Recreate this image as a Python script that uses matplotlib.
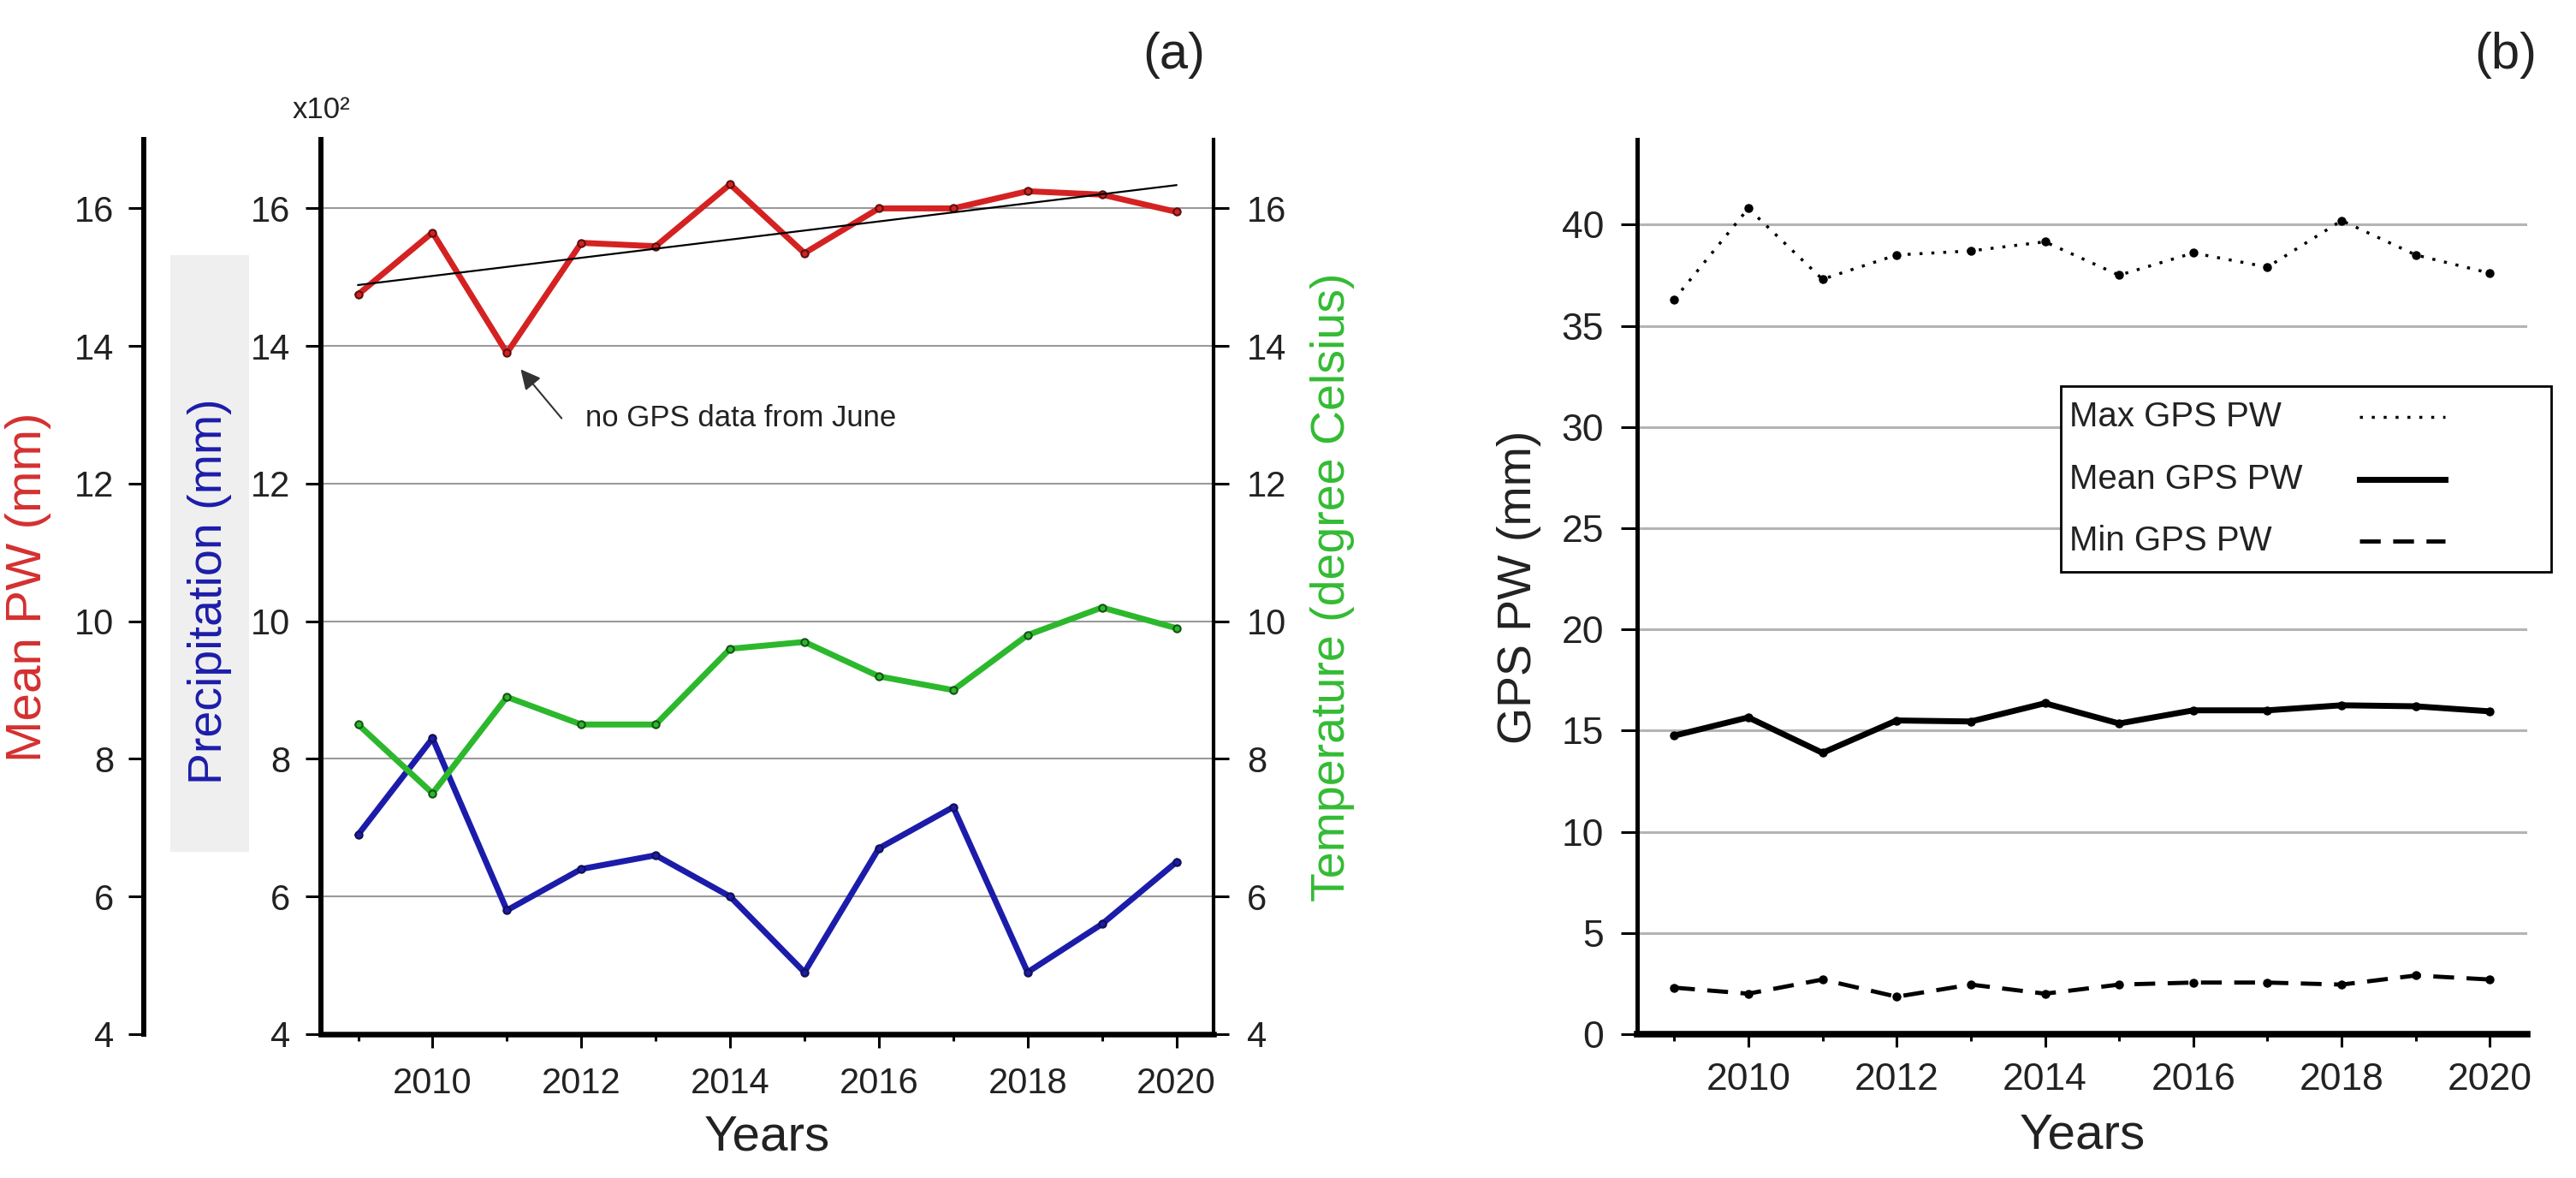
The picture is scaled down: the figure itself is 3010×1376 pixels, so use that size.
import matplotlib.pyplot as plt
from matplotlib.patches import Rectangle
from matplotlib.ticker import MultipleLocator
import numpy as np

plt.rcParams["font.family"] = ["Liberation Sans", "DejaVu Sans"]

# ---- data ----
years = [2009, 2010, 2011, 2012, 2013, 2014, 2015, 2016, 2017, 2018, 2019, 2020]

# panel (a)
mean_pw = [14.75, 15.65, 13.9, 15.5, 15.45, 16.35, 15.35, 16.0, 16.0, 16.25, 16.2, 15.95]   # mm
precip = [6.9, 8.3, 5.8, 6.4, 6.6, 6.0, 4.9, 6.7, 7.3, 4.9, 5.6, 6.5]                  # x10^2 mm
temperature = [8.5, 7.5, 8.9, 8.5, 8.5, 9.6, 9.7, 9.2, 9.0, 9.8, 10.2, 9.9]            # deg C

# panel (b)
max_pw = [36.3, 40.8, 37.3, 38.5, 38.7, 39.15, 37.5, 38.6, 37.9, 40.2, 38.5, 37.6]
min_pw = [2.3, 2.0, 2.7, 1.85, 2.45, 2.0, 2.45, 2.55, 2.55, 2.45, 2.9, 2.7]

RED = "#d42222"
BLUE = "#1c1caa"
GREEN = "#2cb82c"
TXT = "#222222"

fig = plt.figure(figsize=(30.1, 13.76), dpi=100)

# ---------------- panel (a) ----------------
ax = fig.add_axes([0.1246, 0.1221, 0.3465, 0.7594])   # precipitation (inner left axis)
ax_t = ax.twinx()                                     # temperature (right axis)
ax_pw = ax.twinx()                                    # mean PW (outer left axis)

for a in (ax, ax_t, ax_pw):
    a.set_xlim(2008.5, 2020.5)
    a.set_ylim(4, 17)
    a.set_yticks(np.arange(4, 17, 2))
    a.spines["top"].set_visible(False)

ax.spines["right"].set_visible(False)
ax.spines["left"].set_linewidth(4.3)
ax.spines["bottom"].set_linewidth(4.7)

ax_t.spines["left"].set_visible(False)
ax_t.spines["bottom"].set_visible(False)
ax_t.spines["right"].set_linewidth(3)

ax_pw.spines["right"].set_visible(False)
ax_pw.spines["bottom"].set_visible(False)
ax_pw.spines["left"].set_visible(True)
ax_pw.spines["left"].set_position(("axes", -0.1985))
ax_pw.spines["left"].set_linewidth(4.3)
ax_pw.yaxis.set_ticks_position("left")
ax_pw.yaxis.set_label_position("left")

ax.xaxis.set_major_locator(MultipleLocator(2))
ax.xaxis.set_minor_locator(MultipleLocator(1))
ax.tick_params(axis="x", which="major", direction="out", length=11.5, width=2.2,
               pad=16, labelsize=30, labelcolor=TXT)
ax.tick_params(axis="x", which="minor", direction="out", length=6, width=2.2)
for a in (ax, ax_t, ax_pw):
    a.tick_params(axis="y", direction="out", length=13, width=2.2, labelsize=30,
                  labelcolor=TXT)
ax.tick_params(axis="y", pad=13)
ax_pw.tick_params(axis="y", pad=12)
ax_t.tick_params(axis="y", pad=15)

ax.yaxis.grid(True, color="#9a9a9a", lw=1.5)
ax.set_axisbelow(True)

ax.plot(years, precip, color=BLUE, lw=5, marker="o", ms=6,
        mfc=BLUE, mec="#101050", mew=1.5, zorder=3)
ax_t.plot(years, temperature, color=GREEN, lw=5, marker="o", ms=6,
          mfc=GREEN, mec="#145214", mew=1.5, zorder=3)
ax_pw.plot(years, mean_pw, color=RED, lw=5, marker="o", ms=6,
           mfc=RED, mec="#5a1010", mew=1.5, zorder=3)

coef = np.polyfit(years, mean_pw, 1)
ax_pw.plot(years, np.polyval(coef, years), color="black", lw=1.6, zorder=4)

ax_pw.annotate("", xy=(years[2], mean_pw[2]), xytext=(46, -55),
               textcoords="offset points",
               arrowprops=dict(arrowstyle="-|>", color="#333333", lw=1.5,
                               shrinkA=0, shrinkB=18, mutation_scale=35))
ax_pw.annotate("no GPS data from June", xy=(years[2], mean_pw[2]), xytext=(66, -55),
               textcoords="offset points", ha="left", va="center",
               fontsize=25, color=TXT)

ax.set_xlabel("Years", fontsize=42, color=TXT)
ax.xaxis.set_label_coords(0.5, -0.115)
ax.xaxis.label.set_va("center")

ax.set_ylabel("Precipitation (mm)", fontsize=40, color=BLUE)
ax.yaxis.set_label_coords(-0.1246, 0.495)
ax.yaxis.label.set_va("center")

ax_pw.set_ylabel("Mean PW (mm)", fontsize=42, color="#d43030")
ax_pw.yaxis.set_label_coords(-0.328, 0.5)
ax_pw.yaxis.label.set_va("center")

ax_t.set_ylabel("Temperature (degree Celsius)", fontsize=40, color="#33bb33")
ax_t.yaxis.set_label_coords(1.133, 0.5)
ax_t.yaxis.label.set_va("center")

ax.text(0, 1.024, "x10²", transform=ax.transAxes, ha="center", va="baseline",
        fontsize=25, color=TXT)

# light grey band behind the precipitation label
fig.add_artist(Rectangle((199 / 3010, 1 - 995 / 1376), 92 / 3010, 697 / 1376,
                         transform=fig.transFigure, fc="#efefef", ec="none", zorder=-1))

fig.text(1372 / 3010, 1 - 64 / 1376, "(a)", ha="center", va="center",
         fontsize=43, color=TXT)

# ---------------- panel (b) ----------------
axb = fig.add_axes([0.6355, 0.1221, 0.3455, 0.7594])
axb.set_xlim(2008.5, 2020.5)
axb.set_ylim(0, 44.2)
axb.set_yticks(np.arange(0, 41, 5))
axb.spines["top"].set_visible(False)
axb.spines["right"].set_visible(False)
axb.spines["left"].set_linewidth(3.6)
axb.spines["bottom"].set_linewidth(5.5)
axb.xaxis.set_major_locator(MultipleLocator(2))
axb.xaxis.set_minor_locator(MultipleLocator(1))
axb.tick_params(axis="x", which="major", direction="out", length=11, width=2.2,
                pad=13, labelsize=32, labelcolor=TXT)
axb.tick_params(axis="x", which="minor", direction="out", length=6, width=2.2)
axb.tick_params(axis="y", direction="out", length=14, width=2.2, pad=14,
                labelsize=32, labelcolor=TXT)
axb.yaxis.grid(True, color="#b4b4b4", lw=2.2)
axb.set_axisbelow(True)

styles = {
    "Max GPS PW": dict(ls=(0, (1, 3)), lw=2.5),
    "Mean GPS PW": dict(ls="-", lw=5),
    "Min GPS PW": dict(ls=(0, (5, 3)), lw=3.5),
}
series = {"Max GPS PW": max_pw, "Mean GPS PW": mean_pw, "Min GPS PW": min_pw}
for name, vals in series.items():
    axb.plot(years, vals, color="black", marker="o", ms=6.5, zorder=3, **styles[name])

axb.set_xlabel("Years", fontsize=42, color=TXT)
axb.xaxis.set_label_coords(0.5, -0.113)
axb.xaxis.label.set_va("center")
axb.set_ylabel("GPS PW (mm)", fontsize=40, color=TXT)
axb.yaxis.set_label_coords(-0.133, 0.5)
axb.yaxis.label.set_va("center")

# legend box: labels left-aligned, line samples in their own column
axb.add_patch(Rectangle((0.476, 0.517), 0.551, 0.207, transform=axb.transAxes,
                        fc="white", ec="black", lw=2, clip_on=False, zorder=5))
for (name, row_y) in zip(series, [0.690, 0.620, 0.551]):
    axb.text(0.4856, row_y, name, transform=axb.transAxes, ha="left", va="center",
             fontsize=29, color=TXT, zorder=6)
    axb.plot([0.8115, 0.9077], [row_y, row_y], transform=axb.transAxes,
             color="black", clip_on=False, zorder=6, **styles[name])

fig.text(2928 / 3010, 1 - 64 / 1376, "(b)", ha="center", va="center",
         fontsize=43, color=TXT)

fig.savefig("out.png", dpi=100)
